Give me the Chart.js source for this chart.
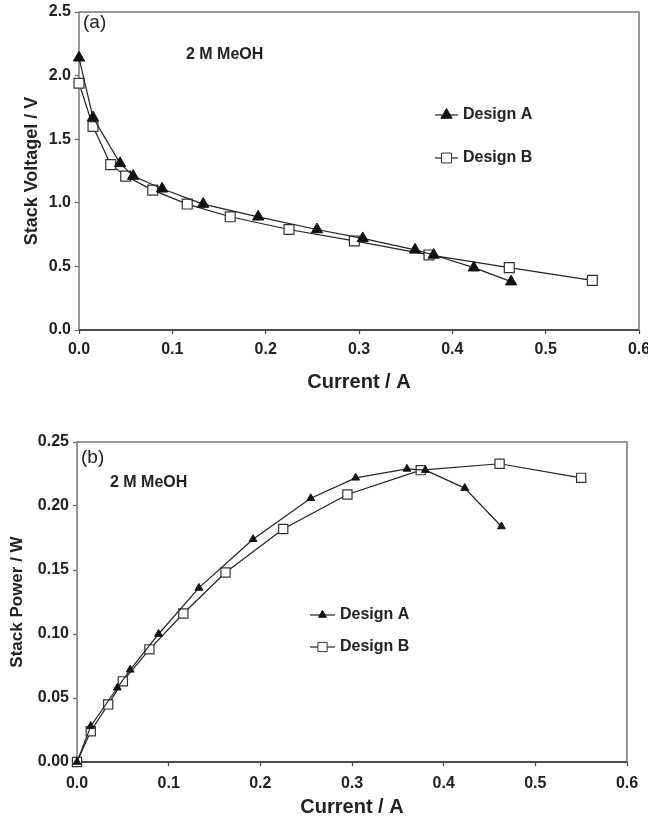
<!DOCTYPE html>
<html>
<head>
<meta charset="utf-8">
<script src="https://cdn.jsdelivr.net/npm/chart.js@4"></script>
<style>
  body { margin: 0; background: #fff; }
  .panel { position: absolute; left: 0; width: 648px; }
</style>
</head>
<body>
<div class="panel" style="top:0;height:394px"><canvas id="chartA" width="648" height="394"></canvas></div>
<div class="panel" style="top:420px;height:399px"><canvas id="chartB" width="648" height="399"></canvas></div>
<script>
// current (A) for each design
const currentA = [0, 0.015, 0.044, 0.058, 0.089, 0.133, 0.192, 0.255, 0.304, 0.36, 0.38, 0.423, 0.463];
const currentB = [0, 0.015, 0.034, 0.05, 0.079, 0.116, 0.162, 0.225, 0.295, 0.375, 0.461, 0.55];
// stack voltage (V), panel (a)
const voltageA = [2.14, 1.67, 1.31, 1.21, 1.11, 0.99, 0.89, 0.79, 0.72, 0.63, 0.59, 0.49, 0.38];
const voltageB = [1.94, 1.60, 1.30, 1.21, 1.10, 0.99, 0.89, 0.79, 0.70, 0.59, 0.49, 0.39];
// stack power (W), panel (b)
const powerA = [0, 0.028, 0.058, 0.072, 0.100, 0.136, 0.174, 0.206, 0.222, 0.229, 0.228, 0.214, 0.184];
const powerB = [0, 0.024, 0.045, 0.063, 0.088, 0.116, 0.148, 0.182, 0.209, 0.228, 0.233, 0.222];
const seriesNames = ["Design A", "Design B"];

const FONT = "'Liberation Sans', Arial, sans-serif";
Chart.defaults.font.family = FONT;
Chart.defaults.color = "#222";

const pts = (xs, ys) => xs.map((x, i) => ({ x: x, y: ys[i] }));

// frame around the plot + text + legend
function decor(cfg) {
  return {
    id: "decor",
    beforeDatasetsDraw(chart) {
      const { ctx, chartArea: a } = chart;
      ctx.save();
      ctx.strokeStyle = "#777";
      ctx.lineWidth = 1.5;
      ctx.strokeRect(a.left, a.top, a.right - a.left, a.bottom - a.top);
      ctx.strokeStyle = "#333";
      ctx.beginPath();
      ctx.moveTo(a.left, a.bottom);
      ctx.lineTo(a.right, a.bottom);
      ctx.stroke();
      ctx.restore();
    },
    afterDraw(chart) {
      const { ctx } = chart;
      ctx.save();
      ctx.fillStyle = "#222";
      ctx.textBaseline = "middle";
      ctx.font = "19px " + FONT;
      ctx.fillText(cfg.tag, cfg.tagX, cfg.tagY);
      ctx.font = "bold 16px " + FONT;
      ctx.fillText("2 M MeOH", cfg.noteX, cfg.noteY);

      // legend
      chart.data.datasets.forEach((ds, i) => {
        const y = cfg.legY[i];
        ctx.strokeStyle = "#222";
        ctx.lineWidth = 1.2;
        ctx.beginPath();
        ctx.moveTo(cfg.legX, y);
        ctx.lineTo(cfg.legX + cfg.legLen, y);
        ctx.stroke();
        const cx = cfg.legX + cfg.legLen / 2;
        const r = ds.pointRadius;
        ctx.beginPath();
        if (ds.pointStyle === "triangle") {
          ctx.moveTo(cx, y - r);
          ctx.lineTo(cx + r * 0.866, y + r * 0.5);
          ctx.lineTo(cx - r * 0.866, y + r * 0.5);
          ctx.closePath();
        } else {
          const s = r * Math.SQRT1_2;
          ctx.rect(cx - s, y - s, 2 * s, 2 * s);
        }
        ctx.fillStyle = ds.pointBackgroundColor;
        ctx.fill();
        ctx.strokeStyle = ds.pointBorderColor;
        ctx.lineWidth = 1;
        ctx.stroke();
        ctx.fillStyle = "#222";
        ctx.font = "bold 16px " + FONT;
        ctx.fillText(ds.label, cfg.legX + cfg.legLen + 5, y);
      });
      ctx.restore();
    }
  };
}

function makeChart(id, cfg) {
  const ctx = document.getElementById(id).getContext("2d");
  return new Chart(ctx, {
    type: "line",
    data: {
      datasets: [{
        label: seriesNames[0],
        data: pts(currentA, cfg.yA),
        borderColor: "#222",
        borderWidth: 1.2,
        pointStyle: "triangle",
        pointRadius: cfg.triR,
        pointBackgroundColor: "#111",
        pointBorderColor: "#111",
        pointBorderWidth: 1,
        tension: 0,
        clip: false
      }, {
        label: seriesNames[1],
        data: pts(currentB, cfg.yB),
        borderColor: "#222",
        borderWidth: 1.2,
        pointStyle: "rect",
        pointRadius: cfg.sqR,
        pointBackgroundColor: "#fff",
        pointBorderColor: "#333",
        pointBorderWidth: 1.2,
        tension: 0,
        clip: false
      }]
    },
    options: {
      responsive: false,
      animation: false,
      layout: { padding: { top: cfg.top, right: cfg.right, left: 0, bottom: 0 } },
      plugins: { legend: { display: false }, tooltip: { enabled: false } },
      scales: {
        x: {
          type: "linear",
          min: 0, max: 0.6,
          afterBuildTicks: s => { s.ticks = [0, 0.1, 0.2, 0.3, 0.4, 0.5, 0.6].map(v => ({ value: v })); },
          afterFit: s => { s.height = cfg.xH; s.paddingLeft = 0; s.paddingRight = 0; },
          grid: { drawOnChartArea: false, tickLength: 4, color: "#444", tickWidth: 1.2 },
          border: { display: false },
          ticks: {
            padding: cfg.xTickPad,
            maxRotation: 0,
            font: { size: 16, weight: "bold" },
            callback: v => v.toFixed(1)
          },
          title: { display: true, text: "Current / A", font: { size: 20, weight: "bold" }, padding: { top: 0, bottom: 0 } }
        },
        y: {
          min: 0, max: cfg.yMax,
          afterBuildTicks: s => { s.ticks = cfg.yTicks.map(v => ({ value: v })); },
          afterFit: s => { s.width = cfg.left; s.paddingTop = 0; s.paddingBottom = 0; },
          grid: { drawOnChartArea: false, tickLength: 4, color: "#666", tickWidth: 1.2 },
          border: { display: false },
          ticks: {
            padding: 4,
            font: { size: 16, weight: "bold" },
            callback: v => v.toFixed(cfg.yDec)
          },
          title: { display: true, text: cfg.yTitle, font: { size: cfg.yTitleSize, weight: "bold" }, padding: { top: cfg.yTitlePad, bottom: 0 } }
        }
      }
    },
    plugins: [decor(cfg)]
  });
}

makeChart("chartA", {
  yA: voltageA, yB: voltageB,
  yMax: 2.5, yTicks: [0, 0.5, 1.0, 1.5, 2.0, 2.5], yDec: 1,
  yTitle: "Stack Voltagel / V", yTitleSize: 18, yTitlePad: 21,
  top: 12, right: 9, left: 79, xH: 64, xTickPad: 6,
  triR: 6.5, sqR: 7,
  tag: "(a)", tagX: 83, tagY: 23, noteX: 186, noteY: 55,
  legX: 435, legLen: 23, legY: [115, 158]
});

makeChart("chartB", {
  yA: powerA, yB: powerB,
  yMax: 0.25, yTicks: [0, 0.05, 0.10, 0.15, 0.20, 0.25], yDec: 2,
  yTitle: "Stack Power / W", yTitleSize: 17, yTitlePad: 7,
  top: 22, right: 21, left: 77, xH: 57, xTickPad: 8,
  triR: 4.5, sqR: 6.5,
  tag: "(b)", tagX: 81, tagY: 38, noteX: 110, noteY: 63,
  legX: 310, legLen: 25, legY: [195, 227]
});
</script>
</body>
</html>
